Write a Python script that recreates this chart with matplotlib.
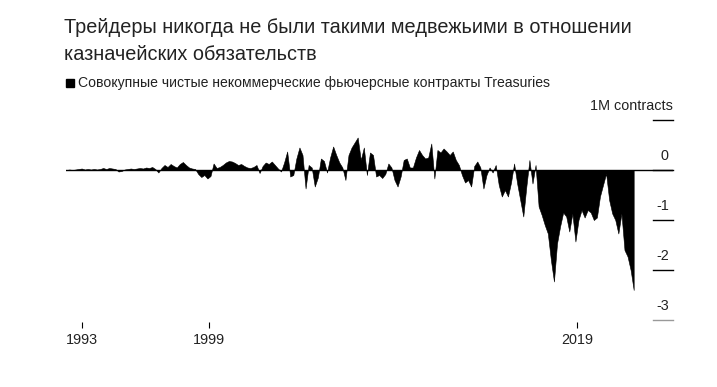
import matplotlib
matplotlib.use("Agg")
import matplotlib.pyplot as plt
from matplotlib.patches import Rectangle
import numpy as np

# net non-commercial Treasury futures positions, million contracts, every 2 months
start_year = 1991.25
step = 1 / 6
positions = [
    # 1991 (from April)
    0.0, 0.01, 0.0, 0.01, 0.02,
    # 1992
    0.03, 0.01, 0.02, 0.01, 0.02, 0.01,
    # 1993
    0.02, 0.04, 0.02, 0.04, 0.03, 0.02,
    # 1994
    -0.03, -0.02, 0.01, 0.02, 0.03, 0.02,
    # 1995
    0.03, 0.04, 0.03, 0.05, 0.04, 0.06,
    # 1996
    0.02, -0.05, 0.04, 0.10, 0.06, 0.12,
    # 1997
    0.08, 0.05, 0.12, 0.16, 0.10, 0.05,
    # 1998
    0.03, 0.02, -0.08, -0.14, -0.10, -0.17,
    # 1999
    -0.12, 0.13, 0.04, 0.06, 0.10, 0.15,
    # 2000
    0.18, 0.17, 0.14, 0.10, 0.12, 0.08,
    # 2001
    0.05, 0.04, 0.06, 0.10, -0.06, 0.08,
    # 2002
    0.15, 0.12, 0.17, 0.10, 0.03, -0.03,
    # 2003
    0.15, 0.37, -0.13, -0.10, 0.23, 0.45,
    # 2004
    0.30, -0.37, 0.10, 0.05, -0.33, -0.15,
    # 2005
    0.23, 0.18, -0.05, 0.25, 0.47, 0.30,
    # 2006
    0.15, 0.05, -0.20, 0.30, 0.45, 0.55,
    # 2007
    0.65, 0.20, 0.45, -0.10, 0.35, 0.30,
    # 2008
    -0.13, -0.10, -0.16, -0.08, 0.13, 0.05,
    # 2009
    -0.20, -0.33, -0.13, 0.20, 0.23, 0.05,
    # 2010
    0.05, 0.25, 0.40, 0.30, 0.23, 0.25,
    # 2011
    0.53, -0.17, 0.40, 0.35, 0.43, 0.37,
    # 2012
    0.30, 0.37, 0.20, 0.10, -0.10, -0.25,
    # 2013
    -0.20, -0.33, 0.08, 0.17, 0.05, -0.37,
    # 2014
    -0.10, 0.05, -0.05, 0.10, -0.30, -0.53,
    # 2015
    -0.40, -0.53, -0.25, 0.13, -0.27, -0.60,
    # 2016
    -0.93, -0.33, 0.20, -0.27, 0.10, -0.73,
    # 2017
    -0.90, -1.10, -1.27, -1.80, -2.23, -1.47,
    # 2018
    -1.13, -0.85, -0.93, -1.23, -0.87, -1.43,
    # 2019
    -1.00, -0.80, -0.95, -0.80, -0.85, -1.00,
    # 2020
    -0.95, -0.53, -0.30, -0.07, -0.60, -0.87,
    # 2021
    -1.00, -1.27, -0.87, -1.60, -1.73, -2.00,
    # 2022
    -2.40,
]
years = start_year + step * np.arange(len(positions))

tick_pos = [1992.1, 1999.0, 2019.0]
tick_labels = ["1993", "1999", "2019"]
y_levels = [1, 0, -1, -2, -3]
y_labels = ["1M contracts", "0", "-1", "-2", "-3"]

title_lines = ["Трейдеры никогда не были такими медвежьими в отношении",
               "казначейских обязательств"]
legend_text = "Совокупные чистые некоммерческие фьючерсные контракты Treasuries"

fig = plt.figure(figsize=(7.17, 3.87), dpi=100)
W, H = 717, 387
ax = fig.add_axes([66 / W, 1 - 322 / H, (673 - 66) / W, (322 - 120) / H])

ax.fill_between(years, positions, 0, color="black", lw=0.4)
ax.axhline(0, color="black", lw=1.0)

ax.set_xlim(1991.23, 2024.22)
ax.set_ylim(-3.04, 1.0)

for s in ax.spines.values():
    s.set_visible(False)
ax.set_yticks([])
ax.set_xticks(tick_pos)
ax.set_xticklabels(tick_labels, fontsize=10.4, family="Liberation Sans", color="#222222")
ax.tick_params(axis="x", direction="out", length=4, width=0.8, color="black", pad=4)

ytr = ax.get_yaxis_transform()
for lev, lab in zip(y_levels, y_labels):
    lc = "#999999" if lev == -3 else "black"
    ax.plot([0.967, 1.0], [lev, lev], color=lc, lw=1.0, transform=ytr, clip_on=False)
    xr = 1.0 if lev == 1 else 0.993
    ax.text(xr, lev + 0.15, lab, transform=ytr, ha="right", va="bottom",
            fontsize=10.4, family="Liberation Sans", color="#222222")

for i, line in enumerate(title_lines):
    fig.text(64 / W, 1 - (33 + 27 * i) / H, line, ha="left", va="baseline",
             fontsize=14.3, family=["Liberation Sans Narrow", "Liberation Sans"],
             color="#222222")

# legend swatch
fig.patches.append(Rectangle((66 / W, 1 - 87 / H), 8 / W, 8 / H, color="black",
                             transform=fig.transFigure))
fig.text(78 / W, 1 - 87 / H, legend_text, ha="left", va="baseline", fontsize=10.1,
         family="Liberation Sans", color="#222222")

fig.savefig("out.png", dpi=100)
